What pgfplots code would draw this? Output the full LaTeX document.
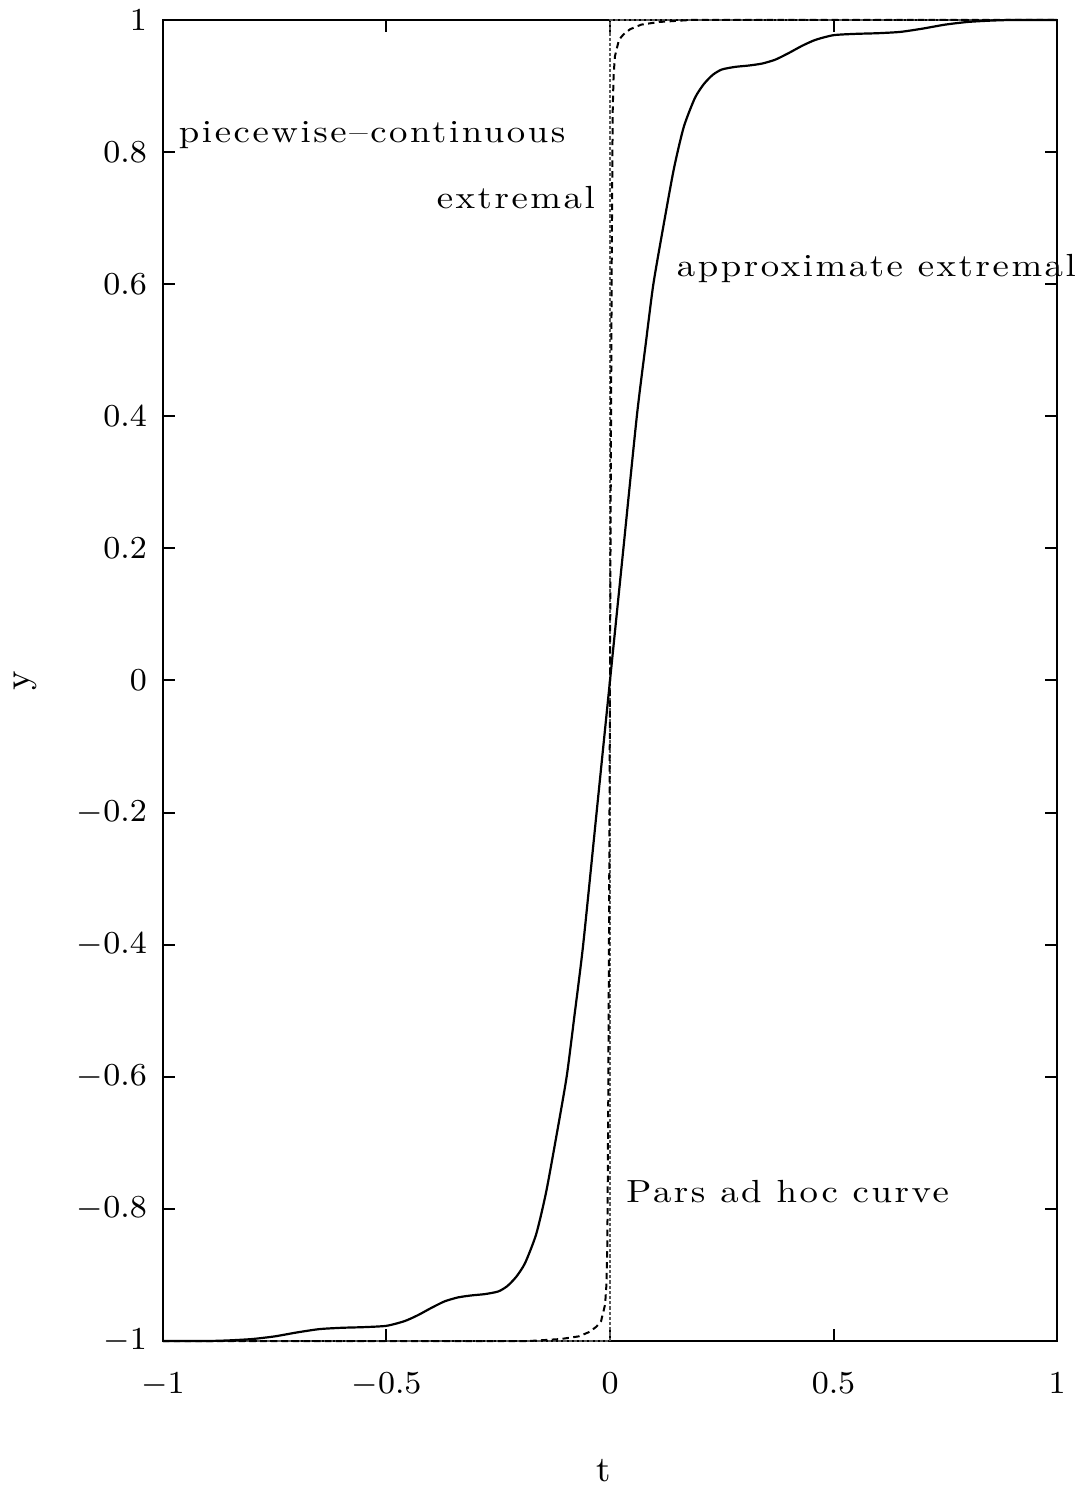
\documentclass[border=0pt]{standalone}
\usepackage{fontspec}
\usepackage{pgfplots}
\pgfplotsset{compat=1.18}

% wide, letter-spaced serif for the curve annotations
\newfontfamily\lbl{lmroman10-regular.otf}[FakeStretch=1.15,LetterSpace=8]

\begin{document}
\begin{tikzpicture}
\useasboundingbox (-40.75pt,-36.5pt) rectangle (230pt,335.25pt);
\begin{axis}[
  at={(0,0)}, anchor=south west,
  scale only axis, width=223.5pt, height=330.25pt,
  xmin=-1, xmax=1, ymin=-1, ymax=1,
  xtick={-1,-0.5,0,0.5,1},
  ytick={-1,-0.8,-0.6,-0.4,-0.2,0,0.2,0.4,0.6,0.8,1},
  tick align=inside,
  major tick length=3pt,
  tick style={black, line width=0.5pt},
  axis line style={line width=0.6pt},
  tick label style={font=\fontsize{8.4}{9}\selectfont},
  xticklabel style={yshift=-4.5pt},
  yticklabel style={xshift=-0.5pt},
  xlabel={t}, ylabel={y},
  xlabel style={at={(axis description cs:0.493,-0.098)}, anchor=center, font=\fontsize{9}{10}\selectfont},
  ylabel style={at={(axis description cs:-0.154,0.5)}, anchor=center, font=\fontsize{9}{10}\selectfont},
  clip=false,
]

% piecewise-continuous extremal
\addplot[black!65, line width=0.6pt, dash pattern=on 0.8pt off 0.5pt] coordinates {
  (-1,-1) (0,-1) (0,1) (1,1)
};

% Pars ad hoc curve
\addplot[black, line width=0.5pt, dash pattern=on 1.6pt off 1.1pt] coordinates {
  (-1,-1) (-0.4,-1) (-0.18,-1) (-0.11,-0.997) (-0.07,-0.993) (-0.045,-0.986)
  (-0.03,-0.978) (-0.02,-0.97) (-0.011,-0.945) (-0.008,-0.915) (-0.006,-0.86)
  (-0.004,-0.65) (-0.002,-0.35) (0,0) (0.002,0.35) (0.004,0.65) (0.006,0.86)
  (0.008,0.915) (0.011,0.945) (0.02,0.97) (0.03,0.978) (0.045,0.986)
  (0.07,0.993) (0.11,0.997) (0.18,1) (0.4,1) (1,1)
};

% approximate extremal
\addplot[black, line width=0.55pt, smooth, tension=0.4] coordinates {
  (-1,-1) (-0.9,-1) (-0.85,-0.999) (-0.8,-0.997) (-0.75,-0.993) (-0.7,-0.987)
  (-0.65,-0.982) (-0.6,-0.98) (-0.55,-0.979) (-0.5,-0.977) (-0.46,-0.97)
  (-0.43,-0.961) (-0.4,-0.95) (-0.37,-0.94) (-0.34,-0.934) (-0.31,-0.931)
  (-0.28,-0.929) (-0.25,-0.925) (-0.23,-0.917) (-0.21,-0.903) (-0.19,-0.882)
  (-0.165,-0.838) (-0.143,-0.775) (-0.12,-0.69) (-0.097,-0.6) (-0.08,-0.51)
  (-0.06,-0.4) (-0.03,-0.2) (0,0) (0.03,0.2) (0.06,0.4) (0.08,0.51)
  (0.097,0.6) (0.12,0.69) (0.143,0.775) (0.165,0.838) (0.19,0.882)
  (0.21,0.903) (0.23,0.917) (0.25,0.925) (0.28,0.929) (0.31,0.931)
  (0.34,0.934) (0.37,0.94) (0.4,0.95) (0.43,0.961) (0.46,0.97) (0.5,0.977)
  (0.55,0.979) (0.6,0.98) (0.65,0.982) (0.7,0.987) (0.75,0.993) (0.8,0.997)
  (0.85,0.999) (0.9,1) (1,1)
};

\node[anchor=base west, inner sep=0, font={\lbl\fontsize{8}{9}\selectfont}] at (axis cs:-0.966,0.815) {piecewise–continuous};
\node[anchor=base east, inner sep=0, font={\lbl\fontsize{8}{9}\selectfont}] at (axis cs:-0.032,0.715) {extremal};
\node[anchor=base west, inner sep=0, font={\lbl\fontsize{8}{9}\selectfont}] at (axis cs:0.148,0.611) {approximate extremal};
\node[anchor=base west, inner sep=0, font={\lbl\fontsize{8}{9}\selectfont}] at (axis cs:0.035,-0.79) {Pars ad hoc curve};
\end{axis}
\end{tikzpicture}
\end{document}
